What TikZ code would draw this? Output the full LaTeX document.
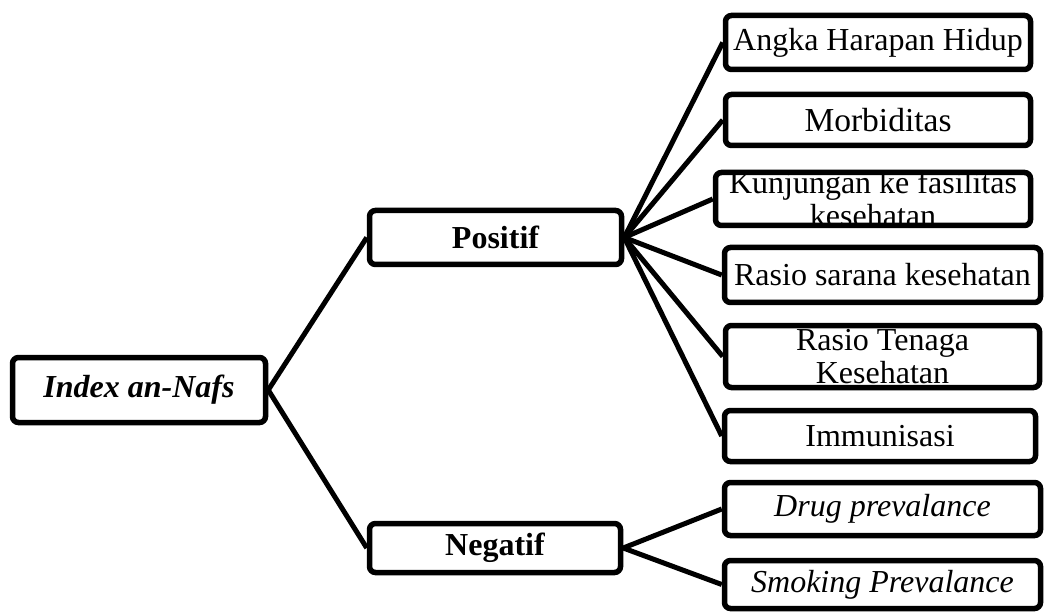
\documentclass[tikz,border=0pt]{standalone}
\usepackage{fontspec}
\setmainfont{Liberation Serif}
\newcommand\diagfont{\fontsize{32}{33}\selectfont}
\begin{document}
\begin{tikzpicture}[x=1pt,y=-1pt,
  box/.style={draw, line width=5.5pt, rounded corners=6pt, inner sep=0pt,
    align=center, font=\diagfont},
  link/.style={line width=5pt}]
\useasboundingbox (0,0) rectangle (1044,612);

% root
\node[box, minimum width=253pt, minimum height=65pt, font=\diagfont\bfseries\itshape]
  (nafs) at (139,390) {Index an-Nafs};

% second level
\node[box, minimum width=252pt, minimum height=54pt, font=\diagfont\bfseries]
  (pos) at (495.5,237.5) {Positif};
\node[box, minimum width=251pt, minimum height=49pt, font=\diagfont\bfseries]
  (neg) at (495,548) {Negatif};

% positive indicators
\node[box, minimum width=305pt, minimum height=54pt] (angka) at (878,42.5) {Angka Harapan Hidup};
\node[box, minimum width=305pt, minimum height=51pt, font=\fontsize{33.5}{35}\selectfont]
  (morb) at (878,120) {Morbiditas};
\node[box, minimum width=315pt, minimum height=53pt] (kunj) at (873,199) {};
\node[inner sep=0pt, align=center, font=\diagfont] (kunjtext) at (kunj.center)
  {Kunjungan ke fasilitas\\kesehatan};
\node[box, minimum width=316pt, minimum height=55pt] (sarana) at (882.5,275) {Rasio sarana kesehatan};
\node[box, minimum width=314pt, minimum height=62pt] (tenaga) at (882.5,356.5) {Rasio Tenaga\\Kesehatan};
\node[box, minimum width=311pt, minimum height=51pt] (imun) at (880,436) {Immunisasi};

% negative indicators
\node[box, minimum width=316pt, minimum height=53pt, font=\diagfont\itshape]
  (drug) at (882.5,509) {Drug prevalance};
\node[box, minimum width=316pt, minimum height=48pt, font=\diagfont\itshape]
  (smoke) at (882.5,584.5) {Smoking Prevalance};

% connectors
\draw[link] (nafs.east) -- (pos.west);
\draw[link] (nafs.east) -- (neg.west);
\foreach \c in {angka,morb,kunj,sarana,tenaga,imun}
  \draw[link] (pos.east) -- (\c.west);
\foreach \c in {drug,smoke}
  \draw[link] (neg.east) -- (\c.west);
\end{tikzpicture}
\end{document}
